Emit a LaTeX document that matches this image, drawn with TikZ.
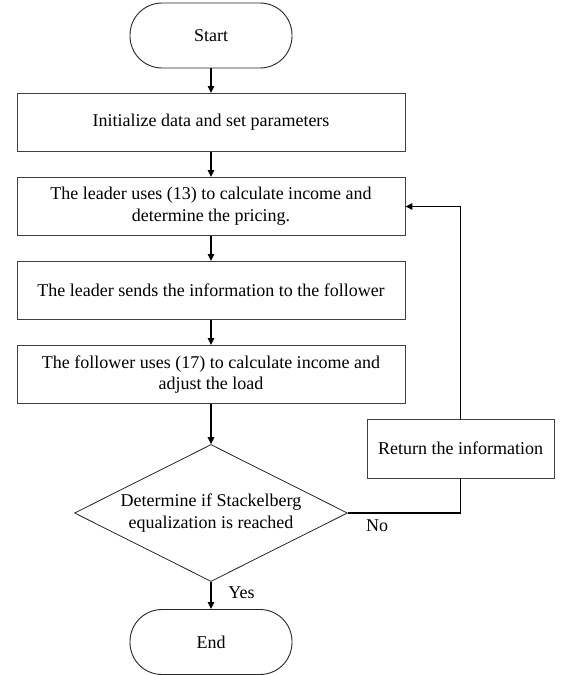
\documentclass[tikz,border=0pt]{standalone}
\usepackage{fontspec}
\setmainfont{Liberation Serif}
\usetikzlibrary{arrows.meta,shapes.geometric}
\begin{document}
\begin{tikzpicture}[x=1pt,y=-1pt,
  every node/.style={font=\fontsize{18}{21.7}\selectfont, align=center},
  term/.style={draw=black!85, line width=0.9pt, minimum width=162pt, minimum height=65pt, rounded corners=32pt, inner sep=0pt},
  procbox/.style={draw=black!75, line width=0.9pt, minimum width=388pt, minimum height=58pt, inner sep=0pt},
  decbox/.style={draw=black!85, line width=0.8pt, diamond, aspect=2, minimum width=273pt, minimum height=137pt, inner sep=0pt},
  conn/.style={draw=black, line width=1.4pt},
  arr/.style={conn, -{Triangle[length=7pt,width=6.5pt]}},
  lbl/.style={inner sep=0pt}
]
\useasboundingbox (0,0) rectangle (564,675);
\node[term] (start) at (211,35.5) {Start};
\node[procbox] (b1) at (211,122.5) {Initialize data and set parameters};
\node[procbox] (b2) at (211,206.5) {The leader uses (13) to calculate income and\\determine the pricing.};
\node[procbox] (b3) at (211,290.5) {The leader sends the information to the follower};
\node[procbox] (b4) at (211,374.5) {The follower uses (17) to calculate income and\\adjust the load};
\node[decbox] (d) at (211,513) {Determine if Stackelberg\\equalization is reached};
\node[term] (end) at (211,642) {End};
\node[procbox, minimum width=187pt, minimum height=59pt] (ret) at (460.5,448.5) {Return the information};
\draw[arr] (start) -- (b1);
\draw[arr] (b1) -- (b2);
\draw[arr] (b2) -- (b3);
\draw[arr] (b3) -- (b4);
\draw[arr] (b4) -- (d);
\draw[arr] (d) -- (end);
\draw[conn] (d.east) -| (ret.south);
\draw[arr] (ret.north) |- (b2.east);
\node[lbl] (no) at (377,526) {No};
\node[lbl] (yes) at (241.5,593) {Yes};
\end{tikzpicture}
\end{document}
